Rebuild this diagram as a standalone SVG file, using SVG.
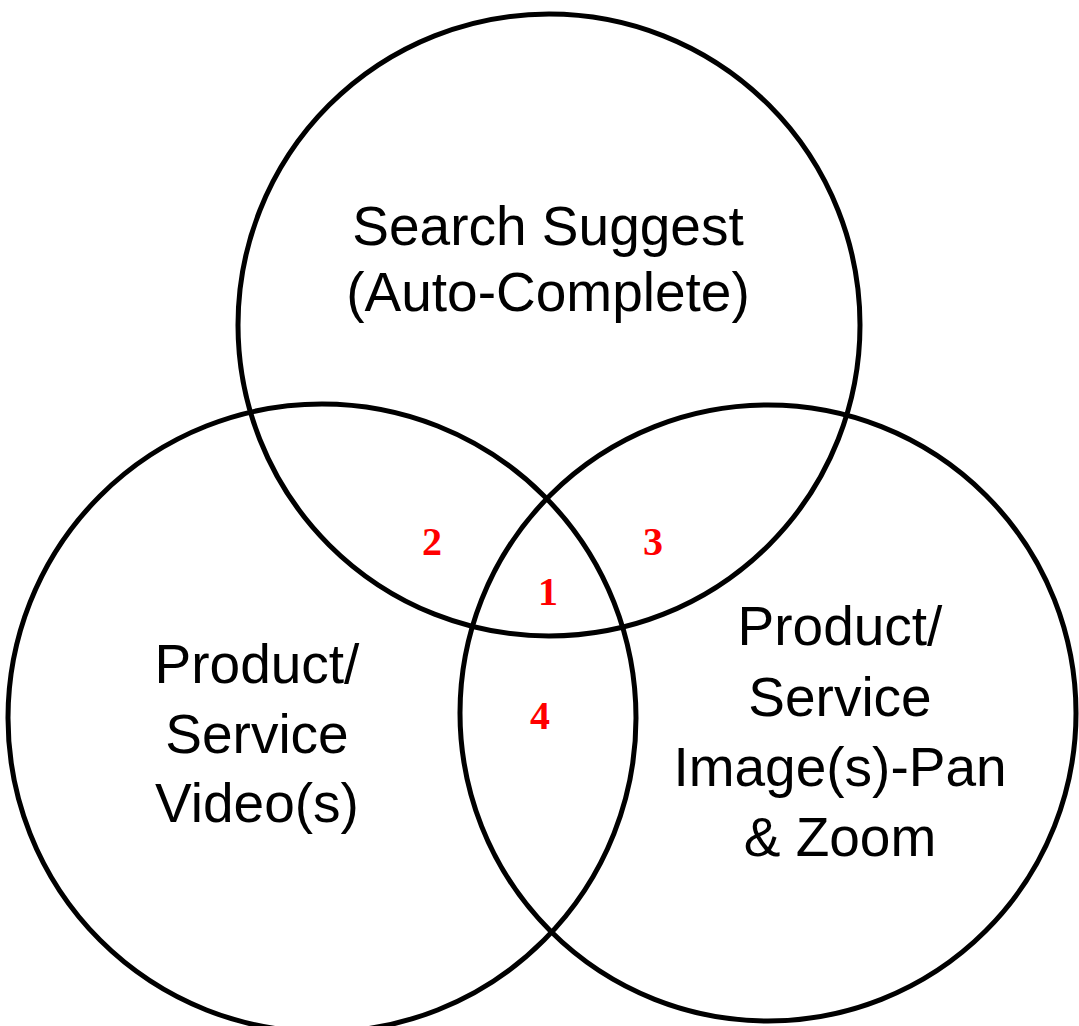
<svg xmlns="http://www.w3.org/2000/svg" width="1079" height="1026" viewBox="0 0 1079 1026">
<style>
.c{fill:none;stroke:#000;stroke-width:5}
.t{font-family:"Liberation Sans",Arial,sans-serif;font-size:55px;fill:#000;text-anchor:middle}
.n{font-family:"Liberation Serif","Times New Roman",serif;font-weight:bold;font-size:40px;fill:#ff0000;text-anchor:middle}
</style>
<rect width="1079" height="1026" fill="#fff"/>
<g id="top">
<circle class="c" cx="549" cy="325" r="311"/>
<text class="t" x="548" y="245">Search Suggest</text>
<text class="t" x="548" y="311">(Auto-Complete)</text>
</g>
<g id="left">
<circle class="c" cx="322" cy="718" r="314"/>
<text class="t" x="257" y="683">Product/</text>
<text class="t" x="257" y="753">Service</text>
<text class="t" x="257" y="822">Video(s)</text>
</g>
<g id="right">
<circle class="c" cx="768" cy="713" r="308"/>
<text class="t" x="840" y="645">Product/</text>
<text class="t" x="840" y="716">Service</text>
<text class="t" x="840" y="786">Image(s)-Pan</text>
<text class="t" x="840" y="856">&amp; Zoom</text>
</g>
<g id="labels">
<text class="n" x="432" y="555">2</text>
<text class="n" x="653" y="555">3</text>
<text class="n" x="548" y="605">1</text>
<text class="n" x="540" y="729">4</text>
</g>
<g id="connectors"/>
</svg>
